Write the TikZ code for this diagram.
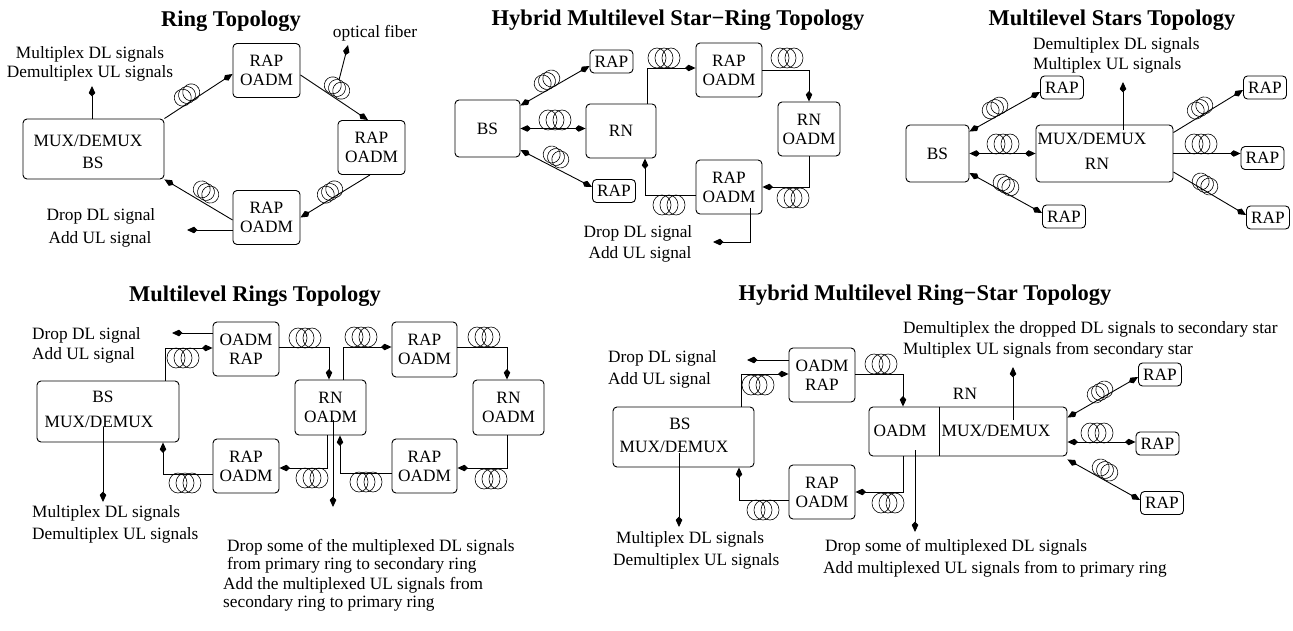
\documentclass[tikz,border=0pt]{standalone}
\usepackage{fontspec}
\setmainfont{Liberation Serif}
\usetikzlibrary{arrows.meta}
\newcommand\txtfont{\fontsize{17.3}{19}\selectfont}
\newcommand\ttlfont{\fontsize{22.5}{26}\selectfont\bfseries}
\tikzset{
  box/.style={draw, rounded corners=4pt, line width=0.9pt, inner sep=0pt, align=center, font=\txtfont},
  rapbox/.style={box, minimum width=#1, minimum height=54pt},
  small/.style={box, minimum width=43pt, minimum height=23pt},
  txt/.style={inner sep=0pt, font=\txtfont, text height=12pt, text depth=3pt},
  mtxt/.style={inner sep=0pt, font=\txtfont},
  ttl/.style={inner sep=0pt, font=\ttlfont},
  conn/.style={line width=0.9pt, ->},
  bi/.style={line width=0.9pt, <->},
  coilline/.style={line width=0.6pt},
  hcoil/.pic={\foreach \d in {-7,0,7} \draw[coilline] (\d,0) ellipse [x radius=9, y radius=10];},
  dcoil/.pic={\foreach \d in {-5,0,5} \draw[coilline] (\d,0) circle [radius=8.5];}
}
\begin{document}
\begin{tikzpicture}[x=1pt, y=-1pt, >={Kite[length=10.5pt,width=6.5pt,inset=3.5pt]}]
\useasboundingbox[fill=white] (0,0) rectangle (1293,631);

% ---------------- Ring Topology ----------------
\node[ttl] (t1) at (231,21) {Ring Topology};
\node[box, minimum width=141pt, minimum height=60pt] (r1bs) at (93.5,149) {};
\node[txt] (r1mux) at (88,142) {MUX/DEMUX};
\node[txt] (r1bst) at (93,164) {BS};
\node[rapbox=67pt] (r1t) at (266.5,70.5) {RAP\\OADM};
\node[rapbox=67pt] (r1r) at (371.5,147.5) {RAP\\OADM};
\node[rapbox=67pt] (r1b) at (266.5,217.5) {RAP\\OADM};
\node[mtxt, align=center] (r1mx) at (90,63.5) {Multiplex DL signals\\Demultiplex UL signals};
\node[txt] (r1d) at (101,216) {Drop DL signal};
\node[txt] (r1a) at (100,239) {Add UL signal};
\node[txt] (r1of) at (375,33) {optical fiber};
\coordinate (r1up) at (92,86);
\coordinate (r1drop) at (187,230);
\coordinate (r1fs) at (339,80);
\coordinate (r1fe) at (348,45);
\draw[conn] (r1bs.north east) -- ([yshift=-3.5pt]r1t.west);
\draw[conn] ([yshift=-4.5pt]r1t.east) -- ([xshift=-3.5pt]r1r.north);
\draw[conn] ([xshift=-1.5pt]r1r.south) -- (r1b.east);
\draw[conn] ([yshift=-2.5pt]r1b.west) -- (r1bs.south east);
\draw[conn] ([yshift=-12.5pt]r1b.west) -- (r1drop);
\draw[conn] (r1bs.north -| r1up) -- (r1up);
\draw[conn] (r1fs) -- (r1fe);
\pic[rotate=32] at (187,95) {dcoil};
\pic[rotate=-32] at (337,88) {dcoil};
\pic[rotate=32] at (330,192) {dcoil};
\pic[rotate=-31] at (206,192) {dcoil};

% ---------------- Hybrid Multilevel Star-Ring Topology ----------------
\node[ttl] (t2) at (678,20) {Hybrid Multilevel Star−Ring Topology};
\node[box, minimum width=65pt, minimum height=57pt] (h2bs) at (487.5,128.5) {BS};
\node[box, minimum width=70pt, minimum height=54pt] (h2rn) at (621,131) {RN};
\node[small] (h2ra) at (611.5,61.5) {RAP};
\node[small] (h2rb) at (614,191) {RAP};
\node[rapbox=66pt] (h2t) at (729,70) {RAP\\OADM};
\node[rapbox=66pt] (h2b) at (729,187) {RAP\\OADM};
\node[rapbox=62pt] (h2r) at (809,129) {RN\\OADM};
\node[txt] (h2d) at (638,233) {Drop DL signal};
\node[txt] (h2a) at (640,254) {Add UL signal};
\coordinate (h2drop) at (713,242);
\draw[bi] ([yshift=-6pt]h2bs.north east) -- ([yshift=-4.5pt]h2ra.west);
\draw[bi] (h2bs.east) -- (h2bs.east -| h2rn.west);
\draw[bi] ([yshift=-21.5pt]h2bs.east) -- ([yshift=4pt]h2rb.west);
\draw[conn] ([xshift=26pt]h2rn.north) |- ([yshift=2pt]h2t.west);
\draw[conn] (h2t.east) -| (h2r.north);
\draw[conn] (h2r.south) |- (h2b.east);
\draw[conn] ([yshift=-8pt]h2b.west) -| ([xshift=24pt]h2rn.south);
\draw[conn] ([xshift=21pt,yshift=-21pt]h2b.center) |- (h2drop);
\pic[rotate=30] at (547,81) {dcoil};
\pic at (555,120) {hcoil};
\pic[rotate=-30] at (556,157) {dcoil};
\pic at (664,58) {hcoil};
\pic at (787,58) {hcoil};
\pic at (793,198) {hcoil};
\pic at (669,205) {hcoil};

% ---------------- Multilevel Stars Topology ----------------
\node[ttl] (t3) at (1112,20) {Multilevel Stars Topology};
\node[mtxt, align=left, anchor=west] (s3txt) at (1033,55) {Demultiplex DL signals\\[1pt]Multiplex UL signals};
\node[box, minimum width=63pt, minimum height=57pt] (s3bs) at (937.5,153.5) {BS};
\node[box, minimum width=137pt, minimum height=57pt] (s3rn) at (1104.5,153.5) {};
\node[txt] (s3mux) at (1092,140) {MUX/DEMUX};
\node[txt] (s3rnt) at (1097,165) {RN};
\node[small] (s3a) at (1062,87.5) {RAP};
\node[small] (s3b) at (1064,216.5) {RAP};
\node[small] (s3c) at (1265,87.5) {RAP};
\node[small] (s3d) at (1262.5,158) {RAP};
\node[small] (s3e) at (1268,217.5) {RAP};
\coordinate (s3up) at (1123,82);
\draw[bi] ([yshift=-7pt]s3bs.north east) -- ([yshift=-4.5pt]s3a.west);
\draw[bi] (s3bs.east) -- (s3bs.east -| s3rn.west);
\draw[bi] ([yshift=-19.5pt]s3bs.east) -- ([yshift=3.5pt]s3b.west);
\draw[conn] ([xshift=18.5pt,yshift=-5pt]s3rn.north) -- (s3up);
\draw[conn] ([yshift=-8pt]s3rn.north east) -- ([yshift=-2.5pt]s3c.west);
\draw[conn] (s3rn.east) -- (s3rn.east -| s3d.west);
\draw[conn] ([yshift=-18.5pt]s3rn.east) -- ([yshift=2.5pt]s3e.west);
\pic[rotate=29] at (995,108) {dcoil};
\pic at (1003,144) {hcoil};
\pic[rotate=-29] at (1006,185) {dcoil};
\pic[rotate=31] at (1200,108) {dcoil};
\pic at (1201,144) {hcoil};
\pic[rotate=-30] at (1205,184) {dcoil};

% ---------------- Multilevel Rings Topology ----------------
\node[ttl] (t4) at (255,296) {Multilevel Rings Topology};
\node[mtxt, align=left, anchor=west] (m4da) at (32,345) {Drop DL signal\\[1pt]Add UL signal};
\node[rapbox=66pt] (m4or) at (246,349) {OADM\\RAP};
\node[box, minimum width=142pt, minimum height=61pt] (m4bs) at (108,411.5) {};
\node[txt] (m4bst) at (103,398) {BS};
\node[txt] (m4mux) at (99,423) {MUX/DEMUX};
\node[rapbox=66pt] (m4bl) at (246,466) {RAP\\OADM};
\node[box, minimum width=71pt, minimum height=55pt] (m4rn) at (330.5,407.5) {RN\\OADM};
\node[box, minimum width=65pt, minimum height=55pt] (m4tr) at (424.5,349.5) {RAP\\OADM};
\node[box, minimum width=71pt, minimum height=55pt] (m4rr) at (508.5,407.5) {RN\\OADM};
\node[rapbox=65pt] (m4br) at (424.5,466) {RAP\\OADM};
\node[mtxt, align=left, anchor=west] (m4mx) at (32,524) {Multiplex DL signals\\[3pt]Demultiplex UL signals};
\node[mtxt, align=left, anchor=west, font=\fontsize{17.3}{18}\selectfont] (m4dr) at (227,556) {Drop some of the multiplexed DL signals\\from primary ring to secondary ring};
\node[mtxt, align=left, anchor=west, font=\fontsize{17.3}{18}\selectfont] (m4ad) at (223,594) {Add the multiplexed UL signals from\\secondary ring to primary ring};
\coordinate (m4drop) at (172,333);
\coordinate (m4bsd) at (103,502);
\coordinate (m4rnd) at (333,507);
\draw[conn] ([yshift=16pt]m4or.west) -- (m4drop);
\draw[conn] ([xshift=57pt]m4bs.north) |- ([yshift=1pt]m4or.west);
\draw[conn] ([yshift=2pt]m4or.east) -| ([xshift=-1.5pt]m4rn.north);
\draw[conn] ([xshift=12.5pt]m4rn.north) |- ([yshift=2.5pt]m4tr.west);
\draw[conn] ([yshift=2.5pt]m4tr.east) -| ([xshift=-1.5pt]m4rr.north);
\draw[conn] ([xshift=-1.5pt]m4rr.south) |- ([yshift=-2pt]m4br.east);
\draw[conn] ([yshift=-7pt]m4br.west) -| ([xshift=9.5pt]m4rn.south);
\draw[conn] ([xshift=-3.5pt]m4rn.south) |- ([yshift=-2pt]m4bl.east);
\draw[conn] ([yshift=-8pt]m4bl.west) -| ([xshift=55pt]m4bs.south);
\draw[conn] ([xshift=-5pt,yshift=-15.5pt]m4bs.center) -- (m4bsd);
\draw[conn] ([xshift=2.5pt,yshift=-12.5pt]m4rn.center) -- (m4rnd);
\pic at (183,358) {hcoil};
\pic at (305,338) {hcoil};
\pic at (361,337) {hcoil};
\pic at (484,337) {hcoil};
\pic at (491,479) {hcoil};
\pic at (366,482) {hcoil};
\pic at (312,478) {hcoil};
\pic at (185,483) {hcoil};

% ---------------- Hybrid Multilevel Ring-Star Topology ----------------
\node[ttl] (t5) at (925,295) {Hybrid Multilevel Ring−Star Topology};
\node[mtxt, align=left, anchor=west] (h5da) at (608,369) {Drop DL signal\\[3pt]Add UL signal};
\node[mtxt, align=left, anchor=west] (h5dm) at (903,339.5) {Demultiplex the dropped DL signals to secondary star\\[2pt]Multiplex UL signals from secondary star};
\node[rapbox=66pt] (h5or) at (822,375) {OADM\\RAP};
\node[box, minimum width=141pt, minimum height=60pt] (h5bs) at (683.5,437) {};
\node[txt] (h5bst) at (680,425) {BS};
\node[txt] (h5mux) at (674,448) {MUX/DEMUX};
\node[rapbox=66pt] (h5ro) at (822,492) {RAP\\OADM};
\node[box, minimum width=198pt, minimum height=49pt] (h5rn) at (968,431.5) {};
\node[txt] (h5oadm) at (900,432) {OADM};
\node[txt] (h5mx) at (996,432) {MUX/DEMUX};
\node[txt] (h5rnt) at (965,395) {RN};
\node[small] (h5a) at (1160,374.5) {RAP};
\node[small] (h5b) at (1157.5,443.5) {RAP};
\node[small] (h5c) at (1162,503) {RAP};
\node[mtxt, align=left, anchor=west] (h5mm) at (613,550) {\hspace{3pt}Multiplex DL signals\\[3pt]Demultiplex UL signals};
\node[mtxt, align=left, anchor=west] (h5ds) at (823,558) {\hspace{2pt}Drop some of multiplexed DL signals\\[3pt]Add multiplexed UL signals from to primary ring};
\coordinate (h5drop) at (747,360);
\coordinate (h5bsd) at (679,527);
\coordinate (h5rnd) at (915,532);
\coordinate (h5up) at (1013,367);
\draw[line width=0.9pt] ([xshift=-29pt]h5rn.north) -- ([xshift=-29pt]h5rn.south);
\draw[conn] ([yshift=15pt]h5or.west) -- (h5drop);
\draw[conn] ([xshift=57.5pt]h5bs.north) |- ([yshift=1pt]h5or.west);
\draw[conn] ([yshift=1pt]h5or.east) -| ([xshift=-65pt]h5rn.north);
\draw[conn] ([xshift=-65pt]h5rn.south) |- (h5ro.east);
\draw[conn] ([yshift=-8pt]h5ro.west) -| ([xshift=55.5pt]h5bs.south);
\draw[conn] ([xshift=-4.5pt,yshift=-16pt]h5bs.center) -- (h5bsd);
\draw[conn] ([xshift=-53pt,yshift=-18.5pt]h5rn.center) -- (h5rnd);
\draw[conn] ([xshift=45pt,yshift=11.5pt]h5rn.center) -- (h5up);
\draw[bi] ([yshift=-11pt]h5rn.north east) -- ([yshift=-2.5pt]h5a.west);
\draw[bi] ([yshift=-10.5pt]h5rn.east) -- ([yshift=-10.5pt]h5rn.east -| h5b.west);
\draw[bi] ([yshift=-3pt]h5rn.south east) -- ([yshift=3pt]h5c.west);
\pic at (758,385) {hcoil};
\pic at (881,364) {hcoil};
\pic at (888,503) {hcoil};
\pic at (763,510) {hcoil};
\pic[rotate=30] at (1100,392) {dcoil};
\pic at (1097,433) {hcoil};
\pic[rotate=-30] at (1105,470) {dcoil};
\end{tikzpicture}
\end{document}
